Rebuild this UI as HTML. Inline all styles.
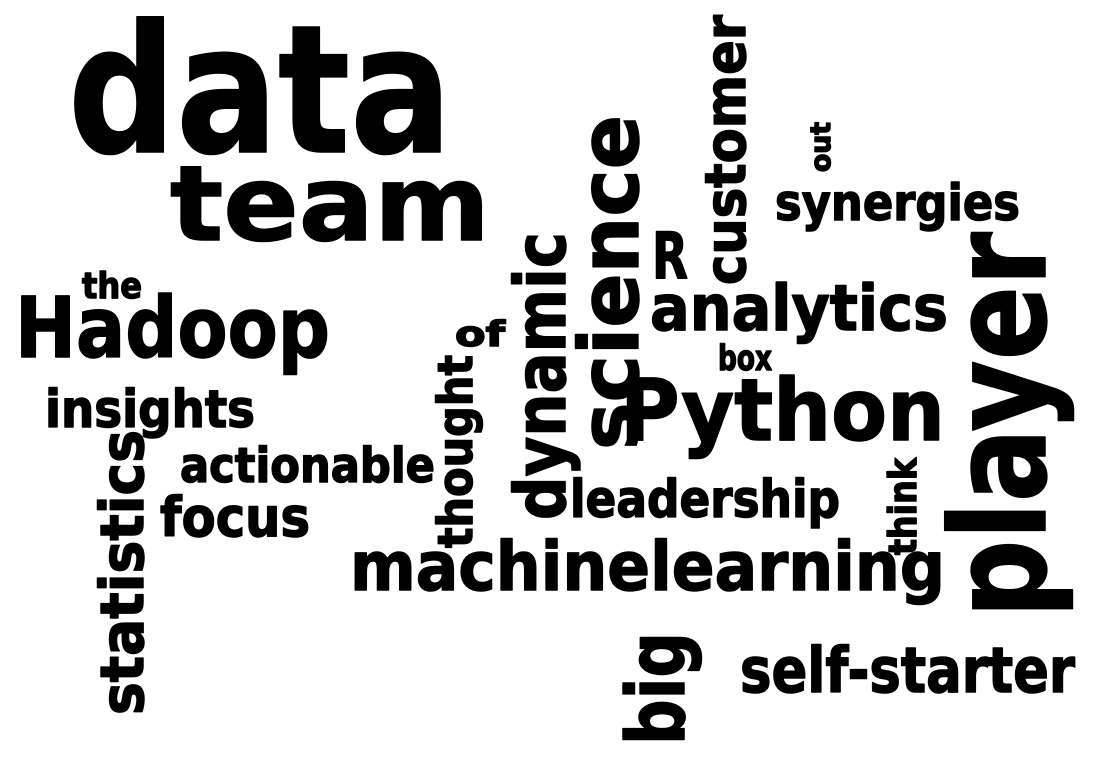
<!DOCTYPE html>
<html>
<head>
<meta charset="utf-8">
<style>
  html, body { margin: 0; padding: 0; background: #fff; }
  svg { display: block; }
  text { font-family: "DejaVu Sans", "Liberation Sans", sans-serif; font-weight: bold; fill: #000; stroke: #000; stroke-width: 1.5; stroke-linejoin: round; }
</style>
</head>
<body>
<svg width="1100" height="757" viewBox="0 0 1100 757">
  <text x="68" y="152" font-size="178" textLength="384" lengthAdjust="spacingAndGlyphs">data</text>
  <text x="170" y="240" font-size="104" textLength="320" lengthAdjust="spacingAndGlyphs">team</text>
  <text x="775" y="220" font-size="50" textLength="245" lengthAdjust="spacingAndGlyphs">synergies</text>
  <text x="652" y="278" font-size="64" textLength="36" lengthAdjust="spacingAndGlyphs">R</text>
  <text x="650" y="330" font-size="63" textLength="298" lengthAdjust="spacingAndGlyphs">analytics</text>
  <text x="82" y="298" font-size="36" textLength="60" lengthAdjust="spacingAndGlyphs">the</text>
  <text x="15" y="357" font-size="84" textLength="315" lengthAdjust="spacingAndGlyphs">Hadoop</text>
  <text x="455" y="346" font-size="35" textLength="50" lengthAdjust="spacingAndGlyphs">of</text>
  <text x="718" y="370" font-size="35" textLength="54" lengthAdjust="spacingAndGlyphs">box</text>
  <text x="620" y="440" font-size="86" textLength="325" lengthAdjust="spacingAndGlyphs">Python</text>
  <text x="45" y="427" font-size="52" textLength="210" lengthAdjust="spacingAndGlyphs">insights</text>
  <text x="180" y="482" font-size="48" textLength="255" lengthAdjust="spacingAndGlyphs">actionable</text>
  <text x="160" y="536" font-size="54" textLength="150" lengthAdjust="spacingAndGlyphs">focus</text>
  <text x="570" y="517" font-size="52" textLength="270" lengthAdjust="spacingAndGlyphs">leadership</text>
  <text x="350" y="590" font-size="68" textLength="595" lengthAdjust="spacingAndGlyphs">machinelearning</text>
  <text x="740" y="692" font-size="62" textLength="335" lengthAdjust="spacingAndGlyphs">self-starter</text>

  <text transform="translate(745,285) rotate(-90)" font-size="56" textLength="270" lengthAdjust="spacingAndGlyphs">customer</text>
  <text transform="translate(830,172) rotate(-90)" font-size="28" textLength="50" lengthAdjust="spacingAndGlyphs">out</text>
  <text transform="translate(638,450) rotate(-90)" font-size="82" textLength="335" lengthAdjust="spacingAndGlyphs">science</text>
  <text transform="translate(565,520) rotate(-90)" font-size="70" textLength="288" lengthAdjust="spacingAndGlyphs">dynamic</text>
  <text transform="translate(472,548) rotate(-90)" font-size="48" textLength="193" lengthAdjust="spacingAndGlyphs">thought</text>
  <text transform="translate(1045,618) rotate(-90)" font-size="132" textLength="386" lengthAdjust="spacingAndGlyphs">player</text>
  <text transform="translate(143,715) rotate(-90)" font-size="60" textLength="285" lengthAdjust="spacingAndGlyphs">statistics</text>
  <text transform="translate(916,555) rotate(-90)" font-size="38" textLength="97" lengthAdjust="spacingAndGlyphs">think</text>
  <text transform="translate(684,745) rotate(-90)" font-size="80" textLength="113" lengthAdjust="spacingAndGlyphs">big</text>
</svg>
</body>
</html>
